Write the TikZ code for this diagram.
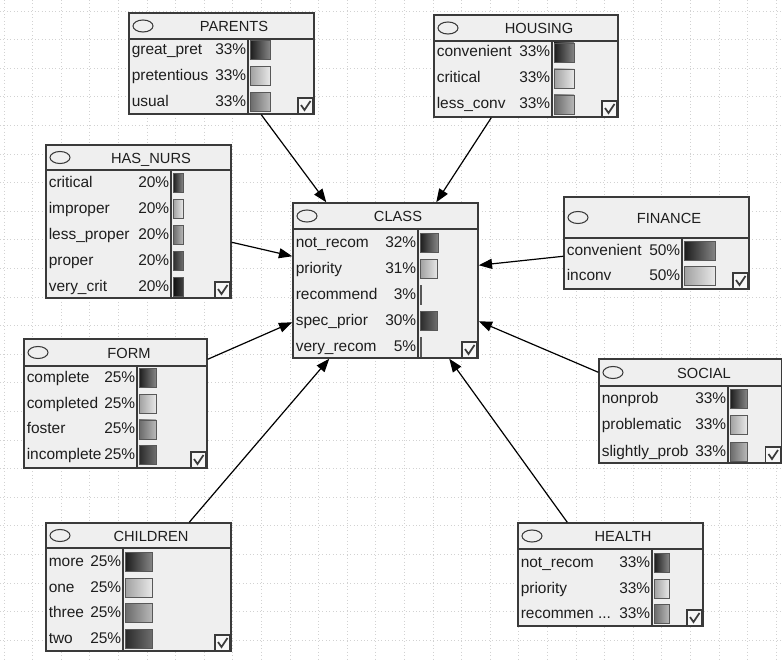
\documentclass[tikz,border=0pt]{standalone}
\usepackage{fontspec}
\setmainfont{Liberation Sans}
\usetikzlibrary{arrows.meta,fit,calc}
\definecolor{boxfill}{HTML}{EFEFEF}
\definecolor{boxline}{HTML}{3A3A3A}
\definecolor{gridc}{HTML}{D2D2D2}
\definecolor{txt}{HTML}{1E1E1E}
\definecolor{gl0}{HTML}{1C1C1C}\definecolor{gr0}{HTML}{858585}
\definecolor{gl1}{HTML}{A0A0A0}\definecolor{gr1}{HTML}{E8E8E8}
\definecolor{gl2}{HTML}{6A6A6A}\definecolor{gr2}{HTML}{B8B8B8}
\definecolor{gl3}{HTML}{2A2A2A}\definecolor{gr3}{HTML}{6E6E6E}
\definecolor{gl4}{HTML}{0E0E0E}\definecolor{gr4}{HTML}{404040}
\newcommand{\trdots}{...}
\tikzset{
  bnframe/.style={draw=boxline, fill=boxfill, line width=1.1pt, inner sep=0pt, rectangle},
  sepline/.style={draw=boxline, line width=1.1pt},
  rowlab/.style={anchor=base west, inner sep=0pt, text=txt, font=\fontsize{11.6}{14}\selectfont},
  rowpct/.style={anchor=base east, inner sep=0pt, text=txt, font=\fontsize{11.6}{14}\selectfont},
  ttl/.style={anchor=base, inner sep=0pt, text=txt, font=\fontsize{11}{13}\selectfont},
  oval/.style={draw=boxline, line width=0.8pt},
  chk/.style={draw=boxline, fill=white!97!black, line width=0.8pt},
  tickmark/.style={draw=boxline, line width=1.3pt},
  barb/.style={draw=boxline!85, line width=0.6pt},
  link/.style={draw=black, line width=0.9pt, -{Triangle[length=10pt,width=7.5pt]}},
  gridline/.style={draw=gridc, dotted, line width=0.6pt}
}
% name, left, top, right, header bottom, bottom, divider, title
\newcommand{\bnnode}[8]{%
  \node[bnframe, fit={(#2,#3) (#4,#6)}] (#1) {};
  \draw[sepline] (#2,#5) -- (#4,#5);
  \draw[sepline] (#7,#5) -- (#7,#6);
  \draw[oval] ({#2+14},{(#3+#5)/2}) ellipse [x radius=7.5pt, y radius=4.5pt];
  \node[ttl] at ({#2+105},{(#3+#5)/2+5.6}) {#8};
  \draw[chk] ({#4-16},{#6-16}) rectangle ({#4-1},#6);
  \draw[tickmark] ({#4-13},{#6-9}) -- ({#4-9.5},{#6-4}) -- ({#4-3.5},{#6-13});
}
% left, divider, first row y, pitch, bar x, list lab/pct/width
\newcommand{\bnrows}[6]{%
  \foreach \lab/\pct/\bw [count=\k from 0] in {#6} {
    \pgfmathsetmacro{\yy}{#3+#4*\k}
    \node[rowlab] at ({#1+2.5},{\yy+4.5}) {\lab};
    \node[rowpct] at ({#2-1.5},{\yy+4.5}) {\pct};
    \shade[left color=gl\k, right color=gr\k] (#5,{\yy-9.5}) rectangle ({#5+\bw},{\yy+9.5});
    \draw[barb] (#5,{\yy-9.5}) rectangle ({#5+\bw},{\yy+9.5});
  }
}
\begin{document}
\begin{tikzpicture}[x=0.75pt,y=-0.75pt]
\useasboundingbox (0,0) rectangle (783,660);
\fill[white] (0,0) rectangle (783,660);
\foreach \gx in {4,32.6,...,783} \draw[gridline] (\gx,0) -- (\gx,660);
\foreach \gy in {11,39.6,...,660} \draw[gridline] (0,\gy) -- (783,\gy);

\bnnode{parents}{129}{13}{314}{39}{114}{248}{PARENTS}
\bnrows{129}{248}{50}{26}{250}{great\_pret/33\%/20, pretentious/33\%/20, usual/33\%/20}

\bnnode{housing}{434}{15}{618}{41}{117}{552}{HOUSING}
\bnrows{434}{552}{52.5}{26}{554}{convenient/33\%/20, critical/33\%/20, less\_conv/33\%/20}

\bnnode{hasnurs}{46}{145}{231}{170}{298}{171}{HAS\_NURS}
\bnrows{46}{171}{183}{26}{173}{critical/20\%/10, improper/20\%/10, less\_proper/20\%/10, proper/20\%/10, very\_crit/20\%/10}

\bnnode{class}{293}{203}{478}{229}{358}{418}{CLASS}
\bnrows{293}{418}{243}{26}{420}{not\_recom/32\%/18, priority/31\%/17.5, recommend/3\%/1.5, spec\_prior/30\%/17, very\_recom/5\%/1.5}

\bnnode{finance}{564}{197}{749}{238}{289}{682}{FINANCE}
\bnrows{564}{682}{251}{25}{684}{convenient/50\%/31, inconv/50\%/31}

\bnnode{form}{24}{339}{207}{366}{468}{137}{FORM}
\bnrows{24}{137}{378}{25.7}{139}{complete/25\%/17, completed/25\%/17, foster/25\%/17, incomplete/25\%/17}

\bnnode{social}{599}{359}{781.5}{386}{463}{728}{SOCIAL}
\bnrows{599}{728}{398.5}{26.5}{730}{nonprob/33\%/17, problematic/33\%/17, slightly\_prob/33\%/17}

\bnnode{children}{46}{523}{231}{548}{651}{123}{CHILDREN}
\bnrows{46}{123}{562}{25.5}{125}{more/25\%/27, one/25\%/27, three/25\%/27, two/25\%/27}

\bnnode{health}{518}{523}{703}{549}{626}{652}{HEALTH}
\bnrows{518}{652}{563}{25.5}{654}{not\_recom/33\%/15, priority/33\%/15, recommen \trdots/33\%/15}

\draw[link] ($(parents.south west)+(133,0)$) -- ($(class.north west)+(34,0)$);
\draw[link] ($(housing.south west)+(58,0)$) -- ($(class.north west)+(144,0)$);
\draw[link] ($(hasnurs.north east)+(0,98)$) -- ($(class.north west)+(0,54)$);
\draw[link] ($(form.north east)+(0,21)$) -- ($(class.north west)+(0,120)$);
\draw[link] ($(finance.north west)+(0,60)$) -- ($(class.north east)+(0,63)$);
\draw[link] ($(social.north west)+(0,14)$) -- ($(class.north east)+(0,119)$);
\draw[link] ($(children.north west)+(144,0)$) -- ($(class.south west)+(37,0)$);
\draw[link] ($(health.north west)+(50,0)$) -- ($(class.south west)+(157,0)$);
\end{tikzpicture}
\end{document}
